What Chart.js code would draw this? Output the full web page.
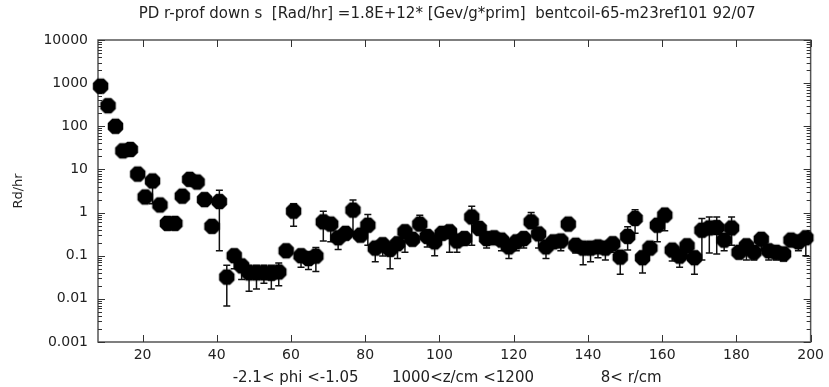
<!DOCTYPE html>
<html>
<head>
<meta charset="utf-8">
<script src="https://cdn.jsdelivr.net/npm/chart.js@4.4.1/dist/chart.umd.min.js"></script>
<style>
  html, body { margin: 0; padding: 0; background: #fff; }
  #wrap { width: 829px; height: 387px; }
</style>
</head>
<body>
<div id="wrap"><canvas id="chart" width="829" height="387"></canvas></div>
<script>
// r bin centres (cm)
const rCentres = [8.7, 10.7, 12.7, 14.7, 16.7, 18.7, 20.7, 22.7, 24.7, 26.7, 28.7, 30.7, 32.7, 34.7, 36.7, 38.7,
  40.7, 42.7, 44.7, 46.7, 48.7, 50.7, 52.7, 54.7, 56.7, 58.7, 60.7, 62.7, 64.7, 66.7, 68.7, 70.7, 72.7, 74.7,
  76.7, 78.7, 80.7, 82.7, 84.7, 86.7, 88.7, 90.7, 92.7, 94.7, 96.7, 98.7, 100.7, 102.7, 104.7, 106.7, 108.7,
  110.7, 112.7, 114.7, 116.7, 118.7, 120.7, 122.7, 124.7, 126.7, 128.7, 130.7, 132.7, 134.7, 136.7, 138.7,
  140.7, 142.7, 144.7, 146.7, 148.7, 150.7, 152.7, 154.7, 156.7, 158.7, 160.7, 162.7, 164.7, 166.7, 168.7,
  170.7, 172.7, 174.7, 176.7, 178.7, 180.7, 182.7, 184.7, 186.7, 188.7, 190.7, 192.7, 194.7, 196.7, 198.7];

// dose rate (Rd/hr)
const doseRates = [850, 300, 100, 27, 29, 7.8, 2.3, 5.4, 1.5, 0.56, 0.56, 2.4, 5.9, 5.1, 2.0, 0.48,
  1.8, 0.032, 0.10, 0.058, 0.040, 0.040, 0.040, 0.039, 0.042, 0.13, 1.08, 0.10, 0.086, 0.098, 0.61, 0.54, 0.26, 0.33,
  1.14, 0.30, 0.51, 0.15, 0.18, 0.14, 0.19, 0.36, 0.24, 0.54, 0.28, 0.21, 0.33, 0.36, 0.22, 0.25, 0.79,
  0.43, 0.25, 0.26, 0.23, 0.16, 0.21, 0.25, 0.61, 0.32, 0.16, 0.21, 0.22, 0.54, 0.175, 0.15,
  0.15, 0.16, 0.15, 0.19, 0.093, 0.28, 0.73, 0.09, 0.15, 0.51, 0.87, 0.135, 0.098, 0.17, 0.09,
  0.39, 0.44, 0.45, 0.23, 0.44, 0.12, 0.17, 0.12, 0.24, 0.13, 0.12, 0.11, 0.23, 0.21, 0.26];

// error bar ends (null where the bar is hidden under the marker)
const errLower = [null, null, null, null, null, null, null, 1.6, null, null, null, null, null, null, null, null,
  0.13, 0.0068, 0.05, 0.028, 0.015, 0.017, 0.023, 0.017, 0.020, null, 0.48, 0.054, 0.048, 0.043, 0.22, 0.21, 0.14, null,
  0.36, null, 0.175, 0.072, 0.098, 0.05, 0.086, 0.12, null, null, 0.16, 0.10, null, 0.12, 0.12, null, 0.175,
  null, 0.15, null, 0.13, 0.086, 0.13, 0.15, null, 0.15, 0.086, null, 0.13, null, 0.115, 0.062,
  0.072, 0.09, 0.08, 0.12, 0.037, 0.135, 0.33, 0.04, null, 0.21, 0.38, 0.075, 0.054, 0.10, 0.037,
  0.08, 0.115, 0.11, 0.13, 0.175, null, 0.08, 0.08, 0.13, 0.08, 0.08, 0.075, null, 0.13, 0.10];
const errUpper = [null, null, null, null, null, null, null, null, null, null, null, null, null, null, null, null,
  3.3, 0.060, null, null, 0.06, 0.06, 0.06, 0.06, 0.068, null, 1.6, null, null, 0.155, 1.08, null, null, null,
  1.95, null, 0.9, null, null, null, null, null, null, 0.87, null, null, null, null, null, null, 1.4,
  null, null, null, null, null, null, null, 1.0, null, null, null, null, null, null, null,
  null, null, null, null, null, 0.47, 1.17, null, null, null, 1.25, null, null, null, null,
  0.73, 0.79, 0.79, null, 0.79, null, null, null, null, null, null, null, null, null, null];

const xTicks = [20, 40, 60, 80, 100, 120, 140, 160, 180, 200];
const yTicks = [0.001, 0.01, 0.1, 1, 10, 100, 1000, 10000];

// trailing spaces nudge the centred strings a little to the left, as in the original
const titleText = 'PD r-prof down s  [Rad/hr] =1.8E+12* [Gev/g*prim]  bentcoil-65-m23ref101 92/07   ';
const xTitleText = '-2.1< phi <-1.05       1000<z/cm <1200              8< r/cm   ';

const FONT = 'DejaVu Sans, sans-serif';

// octagon marker
function makeOctagon(r) {
  const c = document.createElement('canvas');
  const s = Math.ceil(r * 2) + 2;
  c.width = s; c.height = s;
  const g = c.getContext('2d');
  g.fillStyle = '#000';
  g.beginPath();
  for (let i = 0; i < 8; i++) {
    const a = Math.PI / 8 + i * Math.PI / 4;
    const px = s / 2 + r * Math.cos(a), py = s / 2 + r * Math.sin(a);
    if (i === 0) g.moveTo(px, py); else g.lineTo(px, py);
  }
  g.closePath();
  g.fill();
  return c;
}
const marker = makeOctagon(8.4);

const errorBars = {
  id: 'errorBars',
  beforeDatasetsDraw(chart) {
    const { ctx, scales: { x, y } } = chart;
    ctx.save();
    ctx.strokeStyle = '#111';
    ctx.lineWidth = 1.5;
    for (let i = 0; i < doseRates.length; i++) {
      const lo = errLower[i], hi = errUpper[i];
      if (lo === null && hi === null) continue;
      const px = x.getPixelForValue(rCentres[i]);
      const yLo = y.getPixelForValue(lo !== null ? lo : doseRates[i]);
      const yHi = y.getPixelForValue(hi !== null ? hi : doseRates[i]);
      ctx.beginPath();
      ctx.moveTo(px, yLo); ctx.lineTo(px, yHi);
      if (lo !== null) { ctx.moveTo(px - 3.5, yLo); ctx.lineTo(px + 3.5, yLo); }
      if (hi !== null) { ctx.moveTo(px - 3.5, yHi); ctx.lineTo(px + 3.5, yHi); }
      ctx.stroke();
    }
    ctx.restore();
  }
};

// box frame with inward ticks, like the original plot
const frame = {
  id: 'frame',
  beforeDatasetsDraw(chart) {
    const { ctx, chartArea: a, scales: { x, y } } = chart;
    ctx.save();
    ctx.strokeStyle = '#555';
    ctx.lineWidth = 1.5;
    ctx.strokeRect(a.left, a.top, a.right - a.left, a.bottom - a.top);
    ctx.lineWidth = 1;
    ctx.strokeStyle = '#333';
    ctx.beginPath();
    xTicks.forEach(v => {
      const px = Math.round(x.getPixelForValue(v)) + 0.5;
      ctx.moveTo(px, a.bottom); ctx.lineTo(px, a.bottom - 7);
      ctx.moveTo(px, a.top); ctx.lineTo(px, a.top + 7);
    });
    yTicks.forEach(v => {
      for (let m = 1; m < 10; m++) {
        const val = v * m;
        if (val > 10000) break;
        const py = Math.round(y.getPixelForValue(val)) + 0.5;
        const len = m === 1 ? 7 : 4;
        ctx.moveTo(a.left, py); ctx.lineTo(a.left + len, py);
        ctx.moveTo(a.right, py); ctx.lineTo(a.right - len, py);
      }
    });
    ctx.stroke();
    ctx.restore();
  }
};

new Chart(document.getElementById('chart'), {
  type: 'scatter',
  data: {
    datasets: [{
      data: rCentres.map((r, i) => ({ x: r, y: doseRates[i] })),
      pointStyle: marker,
      pointRadius: 8,
      clip: false
    }]
  },
  options: {
    responsive: false,
    animation: false,
    devicePixelRatio: 1,
    layout: { padding: { left: 0, right: 15, top: 0, bottom: 0 } },
    plugins: {
      legend: { display: false },
      tooltip: { enabled: false },
      title: {
        display: true,
        text: titleText,
        fullSize: false,
        color: '#222',
        font: { family: FONT, size: 15, weight: 'normal' },
        padding: { top: 5, bottom: 17 }
      }
    },
    scales: {
      x: {
        type: 'linear',
        min: 8,
        max: 200,
        grid: { display: false, drawTicks: false },
        border: { display: false },
        afterBuildTicks: s => { s.ticks = xTicks.map(v => ({ value: v })); },
        afterFit: s => { s.height = 45; },
        ticks: { color: '#222', font: { family: FONT, size: 14 }, padding: 5, maxRotation: 0 },
        title: {
          display: true,
          text: xTitleText,
          color: '#222',
          font: { family: FONT, size: 15 },
          padding: { top: 0, bottom: 0 }
        }
      },
      y: {
        type: 'logarithmic',
        min: 0.001,
        max: 10000,
        grid: { display: false, drawTicks: false },
        border: { display: false },
        afterBuildTicks: s => { s.ticks = yTicks.map(v => ({ value: v })); },
        afterFit: s => { s.width = 98; },
        ticks: { color: '#222', font: { family: FONT, size: 14 }, padding: 10, callback: v => String(v) },
        title: {
          display: true,
          text: 'Rd/hr',
          color: '#222',
          font: { family: FONT, size: 13 },
          padding: { top: 11, bottom: 0 }
        }
      }
    }
  },
  plugins: [errorBars, frame]
});
</script>
</body>
</html>
